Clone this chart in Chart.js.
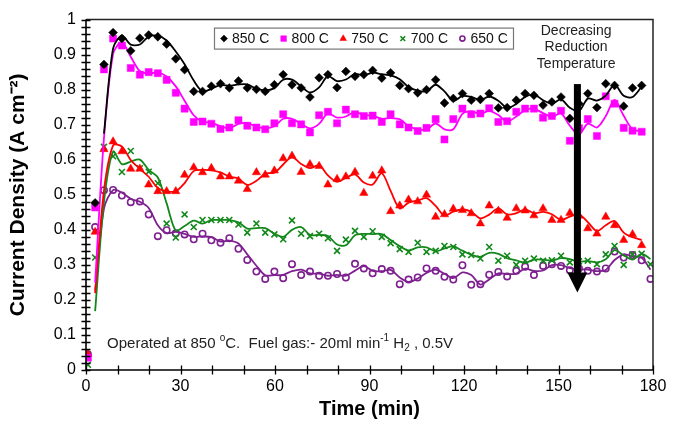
<!DOCTYPE html>
<html>
<head>
<meta charset="utf-8">
<script src="https://cdn.jsdelivr.net/npm/chart.js@4.4.1/dist/chart.umd.min.js"></script>
<style>
html,body{margin:0;padding:0;background:#fff;}
#wrap{position:relative;width:682px;height:424px;}
</style>
</head>
<body>
<div id="wrap"><canvas id="chart" width="682" height="424"></canvas></div>
<script>
// ---- data ----
const timeMin = [0.6, 2.9, 5.7, 8.6, 11.4, 14.2, 17.1, 19.9, 22.8, 25.6, 28.5, 31.3, 34.2, 37.0, 39.8, 42.7,
  45.5, 48.4, 51.2, 54.1, 56.9, 59.8, 62.6, 65.4, 68.3, 71.1, 74.0, 76.8, 79.7, 82.5, 85.4, 88.2, 91.0, 93.9,
  96.7, 99.6, 102.4, 105.3, 108.1, 111.0, 113.8, 116.6, 119.5, 122.3, 125.2, 128.0, 130.9, 133.7, 136.6, 139.4,
  142.2, 145.1, 147.9, 150.8, 153.6, 156.5, 159.3, 162.2, 165.0, 167.8, 170.7, 173.5, 176.4, 179.2];

const seriesLabels = ['850 C', '800 C', '750 C', '700 C', '650 C'];

const j850 = [null, 0.477, 0.872, 0.963, 0.946, 0.911, 0.947, 0.956, 0.951, 0.930, 0.888, 0.857, 0.795, 0.795,
  0.810, 0.817, 0.805, 0.825, 0.805, 0.801, 0.795, 0.814, 0.843, 0.814, 0.805, 0.779, 0.834, 0.843, 0.806, 0.852,
  0.838, 0.843, 0.855, 0.833, 0.848, 0.812, 0.803, 0.791, 0.800, 0.828, 0.762, 0.775, 0.789, 0.770, 0.772, 0.789,
  0.748, 0.749, 0.770, 0.789, 0.784, 0.756, 0.765, 0.779, 0.718, 0.760, 0.789, 0.749, 0.817, 0.812, 0.753, 0.805, 0.812];

const j800 = [0.035, 0.464, 0.858, 0.946, 0.926, 0.862, 0.843, 0.850, 0.847, 0.828, 0.791, 0.746, 0.708, 0.709,
  0.703, 0.688, 0.692, 0.713, 0.697, 0.692, 0.687, 0.704, 0.730, 0.704, 0.701, 0.678, 0.727, 0.737, 0.704, 0.743,
  0.730, 0.725, 0.726, 0.708, 0.730, 0.701, 0.692, 0.682, 0.691, 0.716, 0.658, 0.716, 0.746, 0.730, 0.732, 0.747,
  0.708, 0.710, 0.737, 0.746, 0.746, 0.720, 0.725, 0.740, 0.654, 0.690, 0.716, 0.668, 0.781, 0.760, 0.691, 0.683, 0.680];

const j750 = [0.045, 0.394, 0.630, 0.652, 0.624, 0.574, 0.574, 0.529, 0.510, 0.510, 0.510, 0.557, 0.578, 0.564,
  0.576, 0.552, 0.552, 0.540, 0.516, 0.564, 0.557, 0.569, 0.604, 0.611, 0.565, 0.587, 0.582, 0.529, 0.545, 0.552,
  0.565, 0.505, 0.554, 0.569, 0.453, 0.469, 0.486, 0.481, 0.500, 0.437, 0.444, 0.460, 0.456, 0.447, 0.418, 0.469,
  0.454, 0.434, 0.461, 0.455, 0.441, 0.461, 0.428, 0.428, 0.448, 0.440, 0.404, 0.389, 0.437, 0.413, 0.371, 0.387, 0.356];

const j700 = [0.015, 0.321, 0.637, 0.610, 0.565, 0.625, 0.576, 0.566, 0.533, 0.418, 0.378, 0.444, 0.408, 0.428,
  0.428, 0.428, 0.428, 0.415, 0.392, 0.418, 0.392, 0.387, 0.373, 0.427, 0.389, 0.382, 0.389, 0.376, 0.340, 0.372,
  0.397, 0.380, 0.396, 0.380, 0.362, 0.345, 0.337, 0.363, 0.337, 0.340, 0.354, 0.351, 0.330, 0.328, 0.318, 0.351,
  0.312, 0.326, 0.300, 0.312, 0.318, 0.312, 0.313, 0.326, 0.307, 0.310, 0.312, 0.302, 0.330, 0.354, 0.300, 0.330,
  0.332, 0.302];

const j650 = [0.045, 0.408, 0.513, 0.514, 0.498, 0.479, 0.481, 0.444, 0.382, 0.399, 0.390, 0.387, 0.373, 0.389,
  0.370, 0.363, 0.376, 0.346, 0.314, 0.281, 0.260, 0.281, 0.262, 0.302, 0.271, 0.281, 0.269, 0.269, 0.274, 0.264,
  0.303, 0.290, 0.276, 0.288, 0.283, 0.245, 0.258, 0.264, 0.290, 0.283, 0.266, 0.258, 0.299, 0.243, 0.245, 0.272,
  0.280, 0.267, 0.283, 0.295, 0.271, 0.297, 0.302, 0.297, 0.285, 0.290, 0.283, 0.281, 0.290, 0.338, 0.321, 0.328,
  0.313, 0.260];

const xTickValues = [0, 30, 60, 90, 120, 150, 180];
const yTickValues = [0, 0.1, 0.2, 0.3, 0.4, 0.5, 0.6, 0.7, 0.8, 0.9, 1];
const xMinorStep = 10;
const yMinorStep = 0.02;

// ---- styling ----
const FONT = "'Liberation Sans', Arial, Helvetica, sans-serif";
const seriesValues = [j850, j800, j750, j700, j650];
const seriesStyles = [
  {color: '#000000', point: 'rectRot', r: 4.4, filled: true},
  {color: '#FF00FF', point: 'rect', r: 5.0, filled: true},
  {color: '#FF0000', point: 'triangle', r: 4.8, filled: true},
  {color: '#12881A', point: 'crossRot', r: 4.2, filled: false},
  {color: '#7E2090', point: 'circle', r: 3.2, filled: false}
];

function pointsOf(vals) {
  const out = [];
  vals.forEach((v, i) => { if (v !== null) out.push({x: timeMin[i], y: v}); });
  return out;
}
// Two-period moving-average trend line (as in the source figure)
function trendOf(vals) {
  const out = [];
  for (let i = 1; i < vals.length; i++) {
    if (vals[i - 1] === null || vals[i] === null) continue;
    out.push({x: timeMin[i], y: (vals[i - 1] + vals[i]) / 2});
  }
  return out;
}

const datasets = [];
seriesValues.forEach((vals, s) => {
  const st = seriesStyles[s];
  datasets.push({
    label: seriesLabels[s],
    data: pointsOf(vals),
    showLine: false,
    pointStyle: st.point,
    pointRadius: st.r,
    pointHoverRadius: st.r,
    pointBackgroundColor: st.filled ? st.color : 'rgba(0,0,0,0)',
    pointBorderColor: st.color,
    pointBorderWidth: st.filled ? 0.5 : 1.6,
    order: s * 2 + 1
  });
  datasets.push({
    label: seriesLabels[s] + ' trend',
    data: trendOf(vals),
    showLine: true,
    borderColor: st.color,
    borderWidth: 1.8,
    pointRadius: 0,
    tension: 0.3,
    fill: false,
    order: s * 2
  });
});

function drawMarker(ctx, st, x, y) {
  const r = st.r;
  ctx.save();
  ctx.fillStyle = st.color;
  ctx.strokeStyle = st.color;
  ctx.lineWidth = st.filled ? 0.5 : 1.6;
  ctx.beginPath();
  if (st.point === 'rectRot') {
    ctx.moveTo(x, y - r); ctx.lineTo(x + r, y); ctx.lineTo(x, y + r); ctx.lineTo(x - r, y); ctx.closePath();
  } else if (st.point === 'rect') {
    const h = r * Math.SQRT1_2; ctx.rect(x - h, y - h, 2 * h, 2 * h);
  } else if (st.point === 'triangle') {
    ctx.moveTo(x, y - r); ctx.lineTo(x + r * 0.866, y + r * 0.5); ctx.lineTo(x - r * 0.866, y + r * 0.5); ctx.closePath();
  } else if (st.point === 'crossRot') {
    const h = r * Math.SQRT1_2;
    ctx.moveTo(x - h, y - h); ctx.lineTo(x + h, y + h); ctx.moveTo(x + h, y - h); ctx.lineTo(x - h, y + h);
  } else {
    ctx.arc(x, y, r, 0, Math.PI * 2);
  }
  if (st.filled) { ctx.fill(); ctx.stroke(); } else { ctx.stroke(); }
  ctx.restore();
}

const decorPlugin = {
  id: 'decor',
  afterDatasetsDraw(chart) {
    const {ctx, chartArea: a, scales: {x, y}} = chart;
    ctx.save();
    // frame top/right
    ctx.strokeStyle = '#222';
    ctx.lineWidth = 1.5;
    ctx.beginPath();
    ctx.moveTo(a.left, a.top); ctx.lineTo(a.right, a.top); ctx.lineTo(a.right, a.bottom);
    ctx.stroke();
    // axes
    ctx.strokeStyle = '#000';
    ctx.lineWidth = 1.6;
    ctx.beginPath();
    ctx.moveTo(a.left, a.top); ctx.lineTo(a.left, a.bottom); ctx.lineTo(a.right, a.bottom);
    ctx.stroke();
    // cross ticks
    ctx.lineWidth = 1.3;
    ctx.beginPath();
    for (let v = 0; v <= 1.0001; v += yMinorStep) {
      const py = Math.round(y.getPixelForValue(v)) + 0.5;
      ctx.moveTo(a.left - 4.5, py); ctx.lineTo(a.left + 4.5, py);
    }
    for (let v = 0; v <= 180.001; v += xMinorStep) {
      const px = Math.round(x.getPixelForValue(v)) + 0.5;
      ctx.moveTo(px, a.bottom - 4.5); ctx.lineTo(px, a.bottom + 4.5);
    }
    ctx.stroke();

    // bottom note
    ctx.fillStyle = '#222';
    ctx.textBaseline = 'alphabetic';
    let tx = x.getPixelForValue(6.7);
    const ty = y.getPixelForValue(0.079) + 5.5;
    const big = '15px ' + FONT, small = '10px ' + FONT;
    const parts = [
      ['Operated at 850 ', big, 0], ['o', small, -6.5], ['C.  Fuel gas:- 20ml min', big, 0], ['-1', small, -6.5],
      [' H', big, 0], ['2', small, 3.5], [' , 0.5V', big, 0]
    ];
    parts.forEach(([t, f, dy]) => {
      ctx.font = f; ctx.fillText(t, tx, ty + dy); tx += ctx.measureText(t).width;
    });

    // arrow
    const ax = x.getPixelForValue(156);
    const yTop = y.getPixelForValue(0.816);
    const yBase = y.getPixelForValue(0.278);
    const yTip = y.getPixelForValue(0.221);
    ctx.fillStyle = '#000';
    ctx.fillRect(ax - 3.5, yTop, 7, yBase - yTop + 1);
    ctx.beginPath();
    ctx.moveTo(ax - 10, yBase); ctx.lineTo(ax + 10, yBase); ctx.lineTo(ax, yTip); ctx.closePath();
    ctx.fill();

    // arrow label
    ctx.font = '14px ' + FONT;
    ctx.fillStyle = '#222';
    ctx.textAlign = 'center';
    ctx.textBaseline = 'middle';
    const lx = x.getPixelForValue(155.6);
    ['Decreasing', 'Reduction', 'Temperature'].forEach((t, i) => {
      ctx.fillText(t, lx, y.getPixelForValue([0.966, 0.92, 0.873][i]));
    });

    // legend box
    const bx = a.left + 128, by = a.top + 8, bw = 299, bh = 21;
    ctx.fillStyle = '#fff';
    ctx.fillRect(bx, by, bw, bh);
    ctx.strokeStyle = '#777';
    ctx.lineWidth = 1.2;
    ctx.strokeRect(bx + 0.5, by + 0.5, bw, bh);
    ctx.textAlign = 'left';
    ctx.textBaseline = 'middle';
    ctx.font = '14px ' + FONT;
    seriesLabels.forEach((lab, i) => {
      const mx = bx + 10 + i * 59.6;
      const my = by + bh / 2 + 0.5;
      const st = Object.assign({}, seriesStyles[i]);
      st.r = st.r * 0.8;
      drawMarker(ctx, st, mx, my);
      ctx.fillStyle = '#111';
      ctx.fillText(lab, mx + 8, my + 0.5);
    });
    ctx.restore();
  }
};

new Chart(document.getElementById('chart'), {
  type: 'scatter',
  data: {datasets},
  options: {
    responsive: false,
    animation: false,
    events: [],
    layout: {padding: {top: 17, right: 29, left: 0, bottom: 0}},
    plugins: {legend: {display: false}, tooltip: {enabled: false}},
    scales: {
      x: {
        type: 'linear', min: 0, max: 180,
        afterBuildTicks: s => { s.ticks = xTickValues.map(v => ({value: v})); },
        afterFit: s => { s.height = 54; },
        grid: {display: false, drawTicks: false},
        border: {display: false},
        ticks: {font: {family: FONT, size: 16}, color: '#000', padding: 7, maxRotation: 0, autoSkip: false},
        title: {display: true, text: 'Time (min)', color: '#000',
          font: {family: FONT, size: 20, weight: 'bold'}, padding: {top: 0, bottom: 3}}
      },
      y: {
        type: 'linear', min: 0, max: 1,
        afterBuildTicks: s => { s.ticks = yTickValues.map(v => ({value: v})); },
        afterFit: s => { s.width = 86; },
        grid: {display: false, drawTicks: false},
        border: {display: false},
        ticks: {font: {family: FONT, size: 16}, color: '#000', padding: 10, autoSkip: false,
          callback: v => (v === 0 ? '0' : (Math.abs(v - 1) < 1e-9 ? '1' : v.toFixed(1)))},
        title: {display: true, text: 'Current Density (A cm\u207B\u00B2)', color: '#000',
          font: {family: FONT, size: 21, weight: 'bold'}, padding: {top: 6, bottom: 0}}
      }
    }
  },
  plugins: [decorPlugin]
});
</script>
</body>
</html>
